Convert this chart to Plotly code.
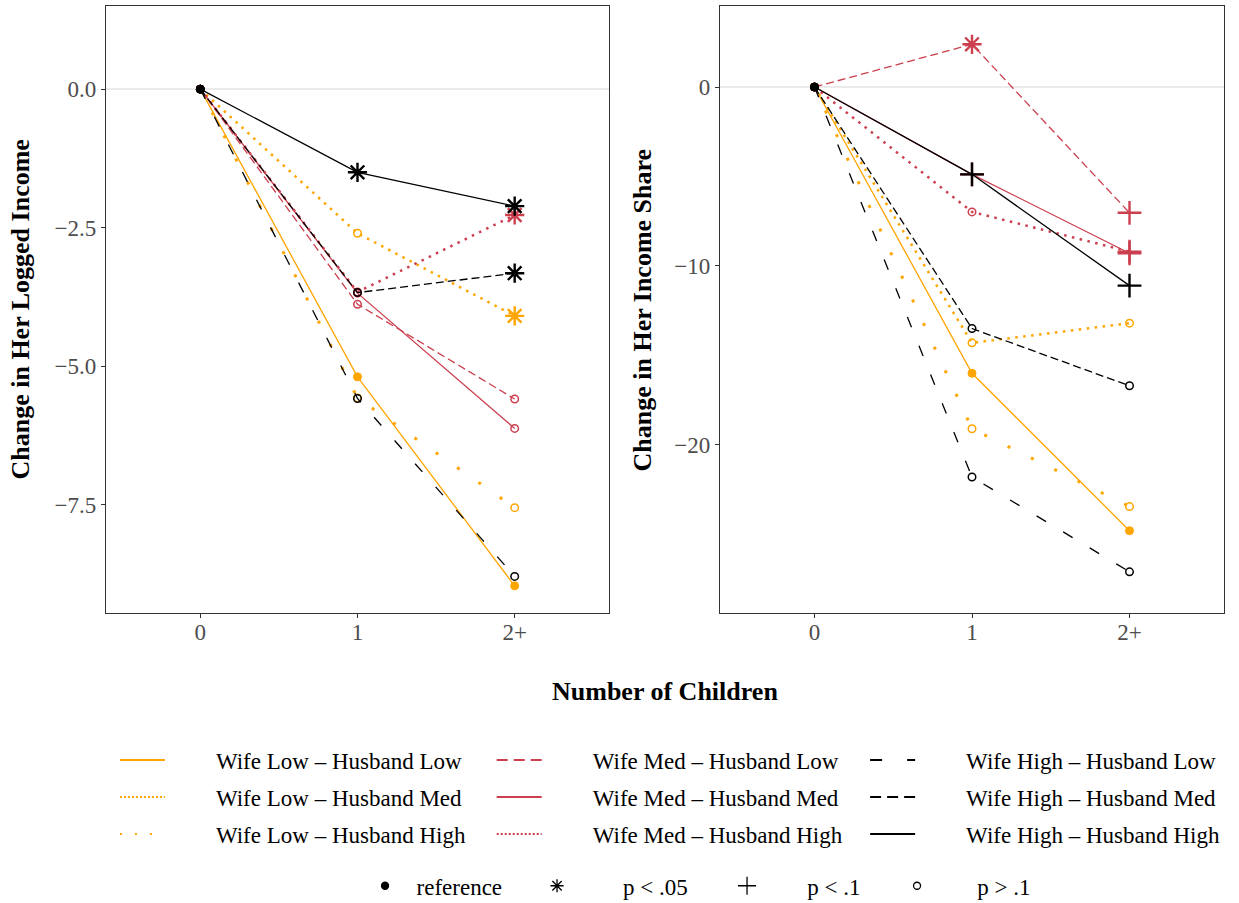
import plotly.graph_objects as go
from plotly.subplots import make_subplots

# ---------------- data ----------------
x_labels = ["0", "1", "2+"]

groups = [
    "Wife Low – Husband Low", "Wife Low – Husband Med", "Wife Low – Husband High",
    "Wife Med – Husband Low", "Wife Med – Husband Med", "Wife Med – Husband High",
    "Wife High – Husband Low", "Wife High – Husband Med", "Wife High – Husband High",
]

# Change in her logged income (left panel)
income_WLHL = [0, -5.19, -8.96]
income_WLHM = [0, -2.60, -4.09]
income_WLHH = [0, -5.57, -7.55]
income_WMHL = [0, -3.88, -5.59]
income_WMHM = [0, -3.68, -6.12]
income_WMHH = [0, -3.66, -2.27]
income_WHHL = [0, -5.58, -8.79]
income_WHHM = [0, -3.67, -3.32]
income_WHHH = [0, -1.50, -2.11]

# Change in her income share (right panel)
share_WLHL = [0, -16.0, -24.8]
share_WLHM = [0, -14.3, -13.2]
share_WLHH = [0, -19.1, -23.45]
share_WMHL = [0, 2.39, -7.03]
share_WMHM = [0, -4.88, -9.29]
share_WMHH = [0, -6.98, -9.2]
share_WHHL = [0, -21.8, -27.1]
share_WHHM = [0, -13.5, -16.7]
share_WHHH = [0, -4.88, -11.1]

# significance category per point
income_sig_WLHL = ["ref", "ref", "ref"]
income_sig_WLHM = ["ref", "ns", "p05"]
income_sig_WLHH = ["ref", "ns", "ns"]
income_sig_WMHL = ["ref", "ns", "ns"]
income_sig_WMHM = ["ref", "ns", "ns"]
income_sig_WMHH = ["ref", "ns", "p05"]
income_sig_WHHL = ["ref", "ns", "ns"]
income_sig_WHHM = ["ref", "ns", "p05"]
income_sig_WHHH = ["ref", "p05", "p05"]

share_sig_WLHL = ["ref", "ref", "ref"]
share_sig_WLHM = ["ref", "ns", "ns"]
share_sig_WLHH = ["ref", "ns", "ns"]
share_sig_WMHL = ["ref", "p05", "p10"]
share_sig_WMHM = ["ref", "p10", "p10"]
share_sig_WMHH = ["ref", "ns", "p10"]
share_sig_WHHL = ["ref", "ns", "ns"]
share_sig_WHHM = ["ref", "ns", "ns"]
share_sig_WHHH = ["ref", "p10", "p10"]

sig_labels = ["reference", "p < .05", "p < .1", "p > .1"]
sig_keys = ["ref", "p05", "p10", "ns"]

income = [income_WLHL, income_WLHM, income_WLHH, income_WMHL, income_WMHM,
          income_WMHH, income_WHHL, income_WHHM, income_WHHH]
share = [share_WLHL, share_WLHM, share_WLHH, share_WMHL, share_WMHM,
         share_WMHH, share_WHHL, share_WHHM, share_WHHH]
income_sig = [income_sig_WLHL, income_sig_WLHM, income_sig_WLHH, income_sig_WMHL,
              income_sig_WMHM, income_sig_WMHH, income_sig_WHHL, income_sig_WHHM,
              income_sig_WHHH]
share_sig = [share_sig_WLHL, share_sig_WLHM, share_sig_WLHH, share_sig_WMHL,
             share_sig_WMHM, share_sig_WMHH, share_sig_WHHL, share_sig_WHHM,
             share_sig_WHHH]

# ---------------- styles ----------------
ORANGE = "#FFA500"
RED = "#CB3F4E"
BLACK = "#000000"
colors = [ORANGE, ORANGE, ORANGE, RED, RED, RED, BLACK, BLACK, BLACK]
dashes = ["solid", "2.5px,5.5px", "3px,23px",
          "8px,4px", "solid", "2.5px,5.5px",
          "11px,20px", "8px,4px", "solid"]
widths = [1.3, 2.5, 3, 1.3, 1.3, 2.5, 1.3, 1.3, 1.3]
leg_dashes = ["solid", "2px,2px", "2px,13px",
              "11px,6px", "solid", "2px,2px",
              "12px,25px", "11px,6px", "solid"]

sym_map = {"ref": "circle", "p05": "asterisk-open", "p10": "cross-thin-open", "ns": "circle-open"}
size_map = {"ref": 8, "p05": 16, "p10": 17, "ns": 7.5}
lw_map = {"ref": 1, "p05": 2.4, "p10": 2.4, "ns": 1.5}

FONT = "Liberation Serif"
xpos = list(range(len(x_labels)))

fig = make_subplots(rows=1, cols=2, horizontal_spacing=0.0992)

for col, (vals, sigs) in enumerate([(income, income_sig), (share, share_sig)], start=1):
    for i in range(len(groups)):
        fig.add_trace(go.Scatter(
            x=xpos, y=vals[i], mode="lines+markers",
            line=dict(color=colors[i], width=widths[i], dash=dashes[i]),
            marker=dict(symbol=[sym_map[s] for s in sigs[i]],
                        size=[size_map[s] for s in sigs[i]],
                        color=colors[i], opacity=1,
                        line=dict(color=colors[i], width=[lw_map[s] for s in sigs[i]])),
            showlegend=False, hoverinfo="skip"), row=1, col=col)

# legend-only traces for line types (3 columns)
pad = "\u00a0" * 8
for i, g in enumerate(groups):
    fig.add_trace(go.Scatter(
        x=[None], y=[None], mode="lines", name=pad + g,
        line=dict(color=colors[i], width=2, dash=leg_dashes[i]),
        legend=["legend", "legend2", "legend3"][i // 3],
        legendgroup="g%d" % i, showlegend=True), row=1, col=1)

# legend-only traces for significance markers
sig_pads = [2, 8, 7, 7]
sig_widths = [127, 145, 125, 120]
sig_leg_size = {"ref": 7, "p05": 11, "p10": 13, "ns": 7}
for k, lab, p, w in zip(sig_keys, sig_labels, sig_pads, sig_widths):
    fig.add_trace(go.Scatter(
        x=[None], y=[None], mode="markers", name="\u00a0" * p + lab,
        marker=dict(symbol=sym_map[k], size=sig_leg_size[k],
                    color=BLACK, line=dict(color=BLACK, width=1.3)),
        legend="legend4", legendwidth=w, showlegend=True), row=1, col=1)

axis_common = dict(showline=True, mirror=True, linecolor="#333333", linewidth=1.3,
                   ticks="outside", ticklen=4, tickcolor="#333333", tickwidth=1.3,
                   showgrid=False,
                   tickfont=dict(family=FONT, size=23, color="#4D4D4D"))

for c in (1, 2):
    fig.update_xaxes(range=[-0.6, 2.6], tickvals=xpos, ticktext=x_labels,
                     zeroline=False, ticklabelstandoff=-6, **axis_common, row=1, col=c)

fig.update_yaxes(range=[-9.45, 1.50], tickvals=[0, -2.5, -5, -7.5], tickformat=".1f",
                 zeroline=True, zerolinecolor="#EBEBEB", zerolinewidth=1.5,
                 **axis_common, row=1, col=1)
fig.update_yaxes(range=[-29.4, 4.53], tickvals=[0, -10, -20],
                 zeroline=True, zerolinecolor="#EBEBEB", zerolinewidth=1.5,
                 **axis_common, row=1, col=2)

fig.update_layout(xaxis=dict(domain=[0, 0.4499]), xaxis2=dict(domain=[0.5492, 1]))

title_font = dict(family=FONT, size=26, color="black")
fig.add_annotation(text="<b>Change in Her Logged Income</b>", xref="paper", yref="paper",
                   x=-0.0769, y=0.5, textangle=-90, showarrow=False, font=title_font,
                   xanchor="center", yanchor="middle")
fig.add_annotation(text="<b>Change in Her Income Share</b>", xref="paper", yref="paper",
                   x=0.4803, y=0.5, textangle=-90, showarrow=False, font=title_font,
                   xanchor="center", yanchor="middle")
fig.add_annotation(text="<b>Number of Children</b>", xref="paper", yref="paper",
                   x=0.5, y=-0.130, showarrow=False, font=title_font,
                   xanchor="center", yanchor="middle")

leg_common = dict(font=dict(family=FONT, size=23, color="black"), bgcolor="rgba(0,0,0,0)",
                  orientation="v", itemwidth=45, tracegroupgap=4, yanchor="top",
                  xanchor="left", y=-0.207, traceorder="grouped")
fig.update_layout(
    legend=dict(x=0.008, **leg_common),
    legend2=dict(x=0.345, **leg_common),
    legend3=dict(x=0.679, **leg_common),
    legend4=dict(x=0.2317, y=-0.414, yanchor="top", xanchor="left", orientation="h",
                 font=dict(family=FONT, size=23, color="black"), bgcolor="rgba(0,0,0,0)"),
    width=1239, height=903,
    margin=dict(l=106, r=15, t=6, b=290, autoexpand=False),
    plot_bgcolor="white", paper_bgcolor="white",
    font=dict(family=FONT),
)

fig.write_html("out.html", config={"displayModeBar": False},
               post_script="document.body.style.margin='0';")
